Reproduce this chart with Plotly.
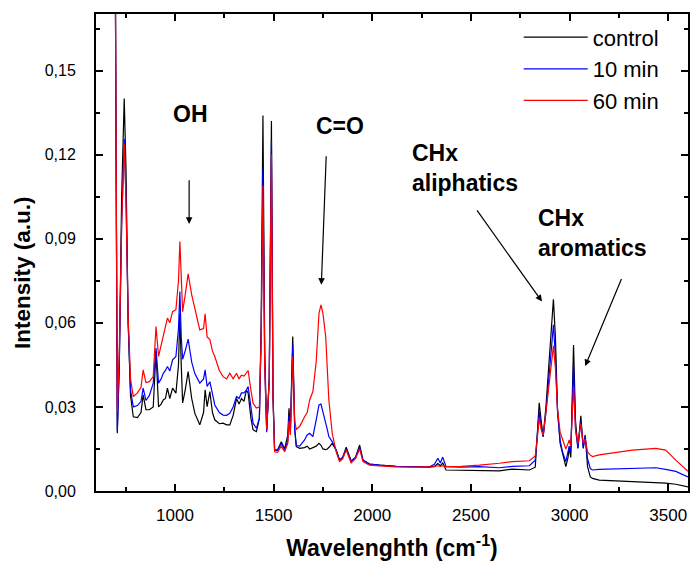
import plotly.graph_objects as go

wavenumber = [697, 708, 718, 730, 743, 752, 763, 775, 789, 810, 828, 839, 853, 870, 890, 904, 917, 930, 941, 952,
              962, 974, 988, 1005, 1018, 1025, 1032, 1039, 1052, 1067, 1085, 1101, 1126, 1145, 1153, 1163, 1177, 1190, 1202, 1225,
              1244, 1262, 1278, 1295, 1312, 1325, 1337, 1350, 1362, 1371, 1385, 1396, 1413, 1428, 1437, 1446, 1455, 1465, 1478, 1489,
              1497, 1505, 1520, 1539, 1556, 1572, 1578, 1585, 1597, 1607, 1615, 1632, 1657, 1670, 1683, 1699, 1716, 1730, 1740, 1750,
              1764, 1772, 1780, 1797, 1817, 1834, 1850, 1868, 1893, 1915, 1936, 1953, 1986, 2037, 2120, 2205, 2290, 2315, 2332, 2345,
              2357, 2374, 2450, 2543, 2644, 2711, 2796, 2826, 2838, 2846, 2856, 2866, 2880, 2895, 2908, 2918, 2928, 2939, 2952, 2964,
              2981, 2992, 2998, 3006, 3020, 3030, 3042, 3057, 3069, 3079, 3091, 3105, 3116, 3150, 3250, 3318, 3437, 3487, 3538, 3600]

control = [0.200, 0.0206, 0.045, 0.105, 0.140, 0.115, 0.060, 0.034, 0.0265, 0.0262, 0.028, 0.0343, 0.029, 0.029, 0.030, 0.0497, 0.030, 0.031, 0.0325, 0.033,
           0.0367, 0.033, 0.0367, 0.0349, 0.045, 0.0634, 0.045, 0.0314, 0.036, 0.0426, 0.033, 0.0277, 0.0236, 0.028, 0.0361, 0.0301, 0.0355, 0.028, 0.0254, 0.024,
           0.0242, 0.0236, 0.0236, 0.027, 0.033, 0.031, 0.033, 0.032, 0.036, 0.035, 0.026, 0.0218, 0.0212, 0.026, 0.060, 0.134, 0.050, 0.0218, 0.040, 0.132,
           0.035, 0.0146, 0.0146, 0.0176, 0.015, 0.020, 0.0295, 0.022, 0.0551, 0.022, 0.0158, 0.0152, 0.0155, 0.0160, 0.0150, 0.0155, 0.016, 0.017, 0.0163, 0.015,
           0.0148, 0.015, 0.0155, 0.017, 0.0146, 0.0111, 0.012, 0.0156, 0.0107, 0.012, 0.0164, 0.0111, 0.0096, 0.0092, 0.0088, 0.0087, 0.0085, 0.0088, 0.0098, 0.0090,
           0.0100, 0.0075, 0.0074, 0.0075, 0.0072, 0.0078, 0.0075, 0.0085, 0.022, 0.0315, 0.025, 0.0194, 0.030, 0.045, 0.060, 0.0684, 0.055, 0.029, 0.017, 0.0135,
           0.0087, 0.012, 0.0155, 0.012, 0.0521, 0.025, 0.0152, 0.0268, 0.0152, 0.020, 0.0087, 0.0050, 0.0045, 0.0039, 0.0036, 0.0034, 0.0030, 0.0028, 0.0024, 0.0015]

min10 = [0.200, 0.0215, 0.045, 0.095, 0.1256, 0.105, 0.060, 0.036, 0.030, 0.0305, 0.032, 0.0367, 0.0323, 0.034, 0.0385, 0.051, 0.0385, 0.040, 0.042, 0.043,
         0.0444, 0.0428, 0.0468, 0.048, 0.058, 0.0712, 0.055, 0.047, 0.050, 0.0542, 0.046, 0.0419, 0.0385, 0.040, 0.0432, 0.0373, 0.039, 0.034, 0.0307, 0.028,
         0.0271, 0.0270, 0.0277, 0.030, 0.0337, 0.033, 0.035, 0.035, 0.036, 0.0373, 0.029, 0.0242, 0.0224, 0.026, 0.055, 0.115, 0.045, 0.021, 0.040, 0.125,
         0.033, 0.0146, 0.0146, 0.017, 0.0146, 0.018, 0.027, 0.021, 0.052, 0.022, 0.0162, 0.016, 0.0182, 0.020, 0.0206, 0.0194, 0.0254, 0.0307, 0.031, 0.0277,
         0.0242, 0.022, 0.0194, 0.0176, 0.0146, 0.0111, 0.012, 0.015, 0.0105, 0.012, 0.0155, 0.011, 0.0096, 0.0092, 0.0088, 0.0087, 0.0086, 0.0095, 0.0117, 0.0100,
         0.0121, 0.0087, 0.0085, 0.0087, 0.0083, 0.0088, 0.0090, 0.011, 0.020, 0.0283, 0.023, 0.0194, 0.028, 0.040, 0.052, 0.0593, 0.048, 0.028, 0.018, 0.014,
         0.0105, 0.014, 0.016, 0.014, 0.045, 0.022, 0.0155, 0.025, 0.0155, 0.0195, 0.0115, 0.0080, 0.0075, 0.0077, 0.0079, 0.0081, 0.0083, 0.0077, 0.0070, 0.0050]

min60 = [0.200, 0.028, 0.050, 0.095, 0.124, 0.104, 0.062, 0.040, 0.0337, 0.035, 0.037, 0.0432, 0.0387, 0.039, 0.0408, 0.0587, 0.048, 0.052, 0.0551, 0.058,
         0.0617, 0.060, 0.064, 0.0647, 0.075, 0.089, 0.072, 0.064, 0.070, 0.0775, 0.070, 0.0647, 0.0575, 0.058, 0.0632, 0.055, 0.054, 0.050, 0.048, 0.043,
         0.0408, 0.040, 0.042, 0.040, 0.042, 0.040, 0.0413, 0.041, 0.042, 0.043, 0.036, 0.0313, 0.0296, 0.030, 0.055, 0.109, 0.045, 0.022, 0.040, 0.120,
         0.033, 0.0140, 0.0138, 0.016, 0.014, 0.017, 0.025, 0.020, 0.048, 0.025, 0.022, 0.023, 0.0265, 0.028, 0.0325, 0.0355, 0.0462, 0.0634, 0.0664, 0.0634,
         0.0551, 0.045, 0.0325, 0.0206, 0.0140, 0.0105, 0.0115, 0.0146, 0.0100, 0.0115, 0.015, 0.0105, 0.0092, 0.0090, 0.0086, 0.0085, 0.0085, 0.0087, 0.0090, 0.0088,
         0.0090, 0.0087, 0.0088, 0.0092, 0.0099, 0.0105, 0.0108, 0.0125, 0.020, 0.026, 0.022, 0.0200, 0.028, 0.037, 0.046, 0.0518, 0.044, 0.029, 0.021, 0.0182,
         0.0150, 0.0170, 0.0182, 0.016, 0.0372, 0.022, 0.017, 0.024, 0.017, 0.0185, 0.0140, 0.0128, 0.0123, 0.0129, 0.0140, 0.0146, 0.0152, 0.0146, 0.0110, 0.0070]

series_names = ["control", "10 min", "60 min"]
series_colors = ["#000000", "#0000ff", "#ff0000"]
series_values = [control, min10, min60]

FONT = "Arial, Liberation Sans, sans-serif"

fig = go.Figure()
for name, col, vals in zip(series_names, series_colors, series_values):
    fig.add_trace(go.Scatter(x=wavenumber, y=vals, mode="lines", name=name,
                             line=dict(color=col, width=1.2)))

ann_font = dict(family=FONT, size=23, color="black", weight="bold")
labels = [
    dict(x=1078, y=0.1346, text="OH", xanchor="center"),
    dict(x=1834, y=0.1303, text="C=O", xanchor="center"),
    dict(x=2189, y=0.1153, text="CHx<br>aliphatics", xanchor="left", align="left"),
    dict(x=2830, y=0.0920, text="CHx<br>aromatics", xanchor="left", align="left"),
]
for a in labels:
    fig.add_annotation(xref="x", yref="y", showarrow=False, yanchor="middle", font=ann_font, **a)

arrows = [
    (1072, 0.0953, 1072, 0.1118),
    (1742, 0.0736, 1767, 0.1203),
    (2860, 0.0676, 2522, 0.1010),
    (3079, 0.0446, 3268, 0.0765),
]
for hx, hy, tx, ty in arrows:
    fig.add_annotation(x=hx, y=hy, ax=tx, ay=ty, xref="x", yref="y", axref="x", ayref="y",
                       text=" ", showarrow=True, arrowhead=2, arrowsize=1.1, arrowwidth=1.2,
                       arrowcolor="black", font=dict(size=2))

fig.add_annotation(xref="paper", yref="paper", x=-0.125, y=0.457, text="Intensity (a.u.)",
                   textangle=-90, showarrow=False, xanchor="center", yanchor="middle",
                   font=dict(family=FONT, size=22.5, color="black", weight="bold"))

axis_common = dict(showline=True, linecolor="black", linewidth=2, mirror="ticks",
                   ticks="inside", ticklen=7, tickwidth=1.5, tickcolor="black",
                   showgrid=False, zeroline=False)

fig.update_xaxes(range=[600, 3600], dtick=500, tick0=0,
                 minor=dict(ticks="inside", ticklen=4, dtick=250, tick0=0, tickcolor="black", tickwidth=1.5),
                 ticklabelstandoff=8,
                 tickfont=dict(family=FONT, size=17, color="black"),
                 title=dict(text="Wavelenghth (cm<sup>-1</sup>)", standoff=15,
                            font=dict(family=FONT, size=23, color="black", weight="bold")),
                 **axis_common)
fig.update_yaxes(range=[0, 0.1702], dtick=0.03, tick0=0, tickformat=".2f",
                 minor=dict(ticks="inside", ticklen=4, dtick=0.015, tick0=0, tickcolor="black", tickwidth=1.5),
                 ticklabelstandoff=15,
                 tickfont=dict(family=FONT, size=16, color="black"),
                 **axis_common)

fig.update_layout(
    width=690, height=567,
    margin=dict(l=96, r=2, t=14, b=76, autoexpand=False),
    paper_bgcolor="white", plot_bgcolor="white",
    separators=", ",
    font=dict(family=FONT, color="black"),
    showlegend=True,
    legend=dict(x=0.714, y=0.995, xanchor="left", yanchor="top", bgcolor="rgba(0,0,0,0)",
                font=dict(family=FONT, size=22, color="black"), itemwidth=64,
                tracegroupgap=0),
)

fig.write_html("out.html")
